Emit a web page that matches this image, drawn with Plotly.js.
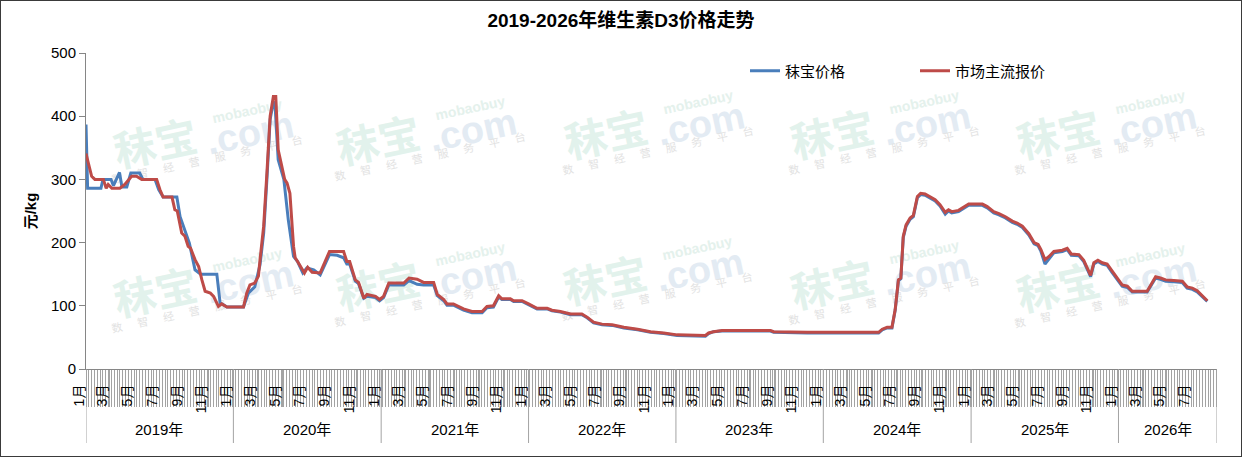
<!DOCTYPE html>
<html>
<head>
<meta charset="utf-8">
<script src="https://cdn.plot.ly/plotly-3.0.1.min.js"></script>
<style>
  html, body { margin: 0; padding: 0; background: #fff; }
  #wrap { position: relative; width: 1242px; height: 457px; }
  #frame {
    position: absolute; left: 0; top: 0; width: 1242px; height: 457px;
    box-sizing: border-box; border: 1px solid #3a3a3a; pointer-events: none;
  }
</style>
</head>
<body>
<div id="wrap">
  <div id="chart" style="width:1242px;height:457px;"></div>
  <div id="frame"></div>
</div>
<script>
"use strict";

// 市场主流报价 (red)
const redDates = [
  "2019-01-01","2019-01-15","2019-01-23","2019-02-13","2019-02-20","2019-02-25","2019-03-06","2019-03-26",
  "2019-04-07","2019-04-24","2019-05-06","2019-05-19","2019-06-25","2019-07-03","2019-07-11","2019-08-02",
  "2019-08-09","2019-08-15","2019-08-26","2019-09-03","2019-09-11","2019-09-17","2019-09-28","2019-10-07",
  "2019-10-15","2019-10-23","2019-11-05","2019-11-13","2019-11-25","2019-12-03","2019-12-16","2020-01-26",
  "2020-02-03","2020-02-11","2020-02-23","2020-03-03","2020-03-07","2020-03-16","2020-03-24","2020-04-01",
  "2020-04-09","2020-04-15","2020-04-21","2020-04-29","2020-05-07","2020-05-13","2020-05-20","2020-05-29",
  "2020-06-02","2020-06-08","2020-06-25","2020-07-03","2020-07-14","2020-08-03","2020-08-26","2020-09-30",
  "2020-10-08","2020-10-15","2020-10-29","2020-11-06","2020-11-19","2020-11-27","2020-12-18","2020-12-28",
  "2021-01-07","2021-01-20","2021-02-26","2021-03-11","2021-03-31","2021-04-16","2021-05-11","2021-05-20",
  "2021-06-05","2021-06-13","2021-06-29","2021-07-24","2021-08-14","2021-09-08","2021-09-20","2021-10-06",
  "2021-10-19","2021-10-27","2021-11-17","2021-11-25","2021-12-16","2022-01-01","2022-01-22","2022-02-16",
  "2022-02-28","2022-03-21","2022-04-06","2022-04-15","2022-05-13","2022-05-26","2022-06-11","2022-07-02",
  "2022-07-27","2022-08-25","2022-09-28","2022-10-30","2022-12-02","2023-01-04","2023-03-15","2023-03-23",
  "2023-04-04","2023-04-25","2023-08-23","2023-08-31","2023-11-22","2024-05-17","2024-05-26","2024-06-07",
  "2024-06-19","2024-06-27","2024-07-05","2024-07-11","2024-07-17","2024-07-24","2024-08-03","2024-08-11",
  "2024-08-21","2024-08-29","2024-09-09","2024-09-21","2024-10-04","2024-10-16","2024-10-29","2024-11-06",
  "2024-11-14","2024-12-01","2024-12-12","2024-12-26","2025-01-29","2025-02-10","2025-02-26","2025-03-11",
  "2025-03-27","2025-04-13","2025-04-25","2025-05-08","2025-05-24","2025-06-06","2025-06-16","2025-06-23",
  "2025-07-03","2025-07-13","2025-07-25","2025-08-15","2025-08-27","2025-09-06","2025-09-25","2025-10-07",
  "2025-10-24","2025-11-01","2025-11-11","2025-11-22","2025-12-04","2025-12-16","2026-01-10","2026-01-23",
  "2026-02-04","2026-03-13","2026-04-03","2026-04-15","2026-04-28","2026-05-18","2026-06-08","2026-06-20",
  "2026-07-03","2026-07-15","2026-07-27","2026-08-09"
];
const redValues = [
  341,305,300,300,286,292,286,286,
  292,305,305,300,300,284,272,272,
  252,250,215,210,194,191,173,162,
  141,123,120,115,99,103,98,98,
  120,133,136,147,173,226,310,400,
  431,431,347,326,300,294,278,194,
  176,170,152,161,153,152,186,186,
  170,170,141,137,112,118,115,110,
  115,136,136,144,142,137,137,118,
  110,103,103,95,91,91,99,100,
  116,111,111,108,108,103,96,96,
  93,91,89,87,87,82,74,71,
  70,66,63,59,57,54,53,57,
  59,61,61,59,58,58,63,66,
  66,94,141,144,210,228,239,243,
  273,278,277,273,268,260,248,252,
  249,251,256,261,261,257,249,246,
  241,234,231,226,214,200,197,189,
  173,178,186,188,191,182,181,172,
  148,168,172,168,166,155,133,131,
  123,123,146,144,141,140,139,130,
  128,124,116,108
];

// 秣宝价格 (blue)
const blueDates = [
  "2019-01-01","2019-01-05","2019-02-07","2019-02-12","2019-03-04","2019-03-10","2019-03-25","2019-03-31",
  "2019-04-12","2019-04-22","2019-05-14","2019-05-22","2019-06-21","2019-06-30","2019-07-11","2019-08-14",
  "2019-08-22","2019-09-14","2019-09-28","2019-10-12","2019-11-21","2019-11-29","2019-12-16","2020-01-26",
  "2020-02-07","2020-02-23","2020-03-07","2020-03-16","2020-03-24","2020-04-01","2020-04-09","2020-04-13",
  "2020-04-21","2020-05-05","2020-05-16","2020-05-29","2020-06-08","2020-06-21","2020-07-01","2020-07-18",
  "2020-08-03","2020-08-26","2020-09-14","2020-09-30","2020-10-08","2020-10-15","2020-10-29","2020-11-06",
  "2020-11-19","2020-11-27","2020-12-18","2020-12-28","2021-01-07","2021-01-20","2021-02-26","2021-03-11",
  "2021-03-31","2021-04-16","2021-05-11","2021-05-20","2021-06-05","2021-06-13","2021-06-29","2021-07-24",
  "2021-08-14","2021-09-08","2021-09-20","2021-10-06","2021-10-19","2021-10-27","2021-11-17","2021-11-25",
  "2021-12-16","2022-01-01","2022-01-22","2022-02-16","2022-02-28","2022-03-21","2022-04-06","2022-04-15",
  "2022-05-13","2022-05-26","2022-06-11","2022-07-02","2022-07-27","2022-08-25","2022-09-28","2022-10-30",
  "2022-12-02","2023-01-04","2023-03-15","2023-03-23","2023-04-04","2023-04-25","2023-08-23","2023-08-31",
  "2023-11-22","2024-05-17","2024-05-26","2024-06-07","2024-06-19","2024-06-27","2024-07-05","2024-07-11",
  "2024-07-17","2024-07-24","2024-08-03","2024-08-11","2024-08-21","2024-08-29","2024-09-09","2024-09-21",
  "2024-10-04","2024-10-16","2024-10-29","2024-11-06","2024-11-14","2024-12-01","2024-12-12","2024-12-26",
  "2025-01-29","2025-02-10","2025-02-26","2025-03-11","2025-03-27","2025-04-13","2025-04-25","2025-05-08",
  "2025-05-24","2025-06-06","2025-06-16","2025-06-23","2025-07-03","2025-07-13","2025-07-25","2025-08-15",
  "2025-08-27","2025-09-06","2025-09-25","2025-10-07","2025-10-24","2025-11-01","2025-11-11","2025-11-22",
  "2025-12-04","2025-12-16","2026-01-10","2026-01-23","2026-02-04","2026-03-13","2026-04-03","2026-04-15",
  "2026-04-28","2026-05-18","2026-06-08","2026-06-20","2026-07-03","2026-07-15","2026-07-27","2026-08-09"
];
const blueValues = [
  387,286,286,300,300,290,311,288,
  288,310,310,300,300,284,272,272,
  241,199,157,150,150,105,98,98,
  120,130,165,215,300,395,423,420,
  331,300,236,178,170,152,160,157,
  149,181,180,176,166,166,139,135,
  112,115,113,108,113,133,133,140,
  134,133,133,116,108,101,101,93,
  89,89,97,98,114,110,110,107,
  107,102,95,95,92,90,88,86,
  86,81,73,70,69,65,62,58,
  56,53,52,56,59,60,60,58,
  57,57,62,65,65,93,140,143,
  208,226,237,241,271,276,275,271,
  266,258,245,250,247,249,254,259,
  259,255,247,244,239,232,229,224,
  212,198,195,186,166,175,184,186,
  189,180,179,170,146,166,170,166,
  164,153,131,129,122,122,144,142,
  139,138,137,128,126,122,114,107
];

const seriesNames = ["秣宝价格", "市场主流报价"];
const yearLabels = ["2019年","2020年","2021年","2022年","2023年","2024年","2025年","2026年"];
const monthLabels = ["1月","3月","5月","7月","9月","11月"];
const yTicks = [0, 100, 200, 300, 400, 500];

const X_END = "2026-09-02";
const FONT = "'Liberation Sans', Arial, 'Noto Sans CJK SC', sans-serif";
const AXIS_GREY = "#868686";
const TICK_GREY = "#a3a3a3";

// plot box in pixels, used to place decorations
const M = { l: 86, r: 25, t: 53, b: 88 };
const W = 1242, H = 457;
const px = (x) => (x - M.l) / (W - M.l - M.r);
const py = (y) => (H - M.b - y) / (H - M.t - M.b);

/* ── month tick labels (odd months, up to last data week) ─────────── */
const lastDate = redDates[redDates.length - 1];
const tickVals = [], tickText = [];
yearLabels.forEach((lab, i) => {
  const yr = 2019 + i;
  monthLabels.forEach((m) => {
    const mm = String(parseInt(m, 10)).padStart(2, "0");
    const d = `${yr}-${mm}-01`;
    if (d <= lastDate) { tickVals.push(d); tickText.push(m); }
  });
});

/* ── year band: separators + labels ───────────────────────────────── */
const shapes = [];
const annotations = [];
const bounds = yearLabels.map((lab, i) => `${2019 + i}-01-01`).concat([X_END]);
bounds.forEach((b) => {
  shapes.push({
    type: "line", xref: "x", yref: "paper",
    x0: b, x1: b, y0: 0, y1: py(443),
    line: { color: TICK_GREY, width: 1 },
  });
});
yearLabels.forEach((lab, i) => {
  const a = new Date(bounds[i]).getTime();
  const b = new Date(bounds[i + 1]).getTime();
  annotations.push({
    x: new Date((a + b) / 2).toISOString().slice(0, 10),
    xref: "x", y: py(429), yref: "paper",
    xanchor: "center", yanchor: "middle",
    text: lab, showarrow: false,
    font: { size: 15, color: "#000" },
  });
});

/* ── faint watermarks, kept under the lines via shape labels ─────── */
const marks = [
  [155, 141], [378, 138], [606, 132], [832, 132], [1058, 132],
  [155, 290], [378, 284], [605, 278], [832, 282], [1058, 285],
];
function stamp(x, y, text, size, color) {
  const e = 0.0005;
  shapes.push({
    type: "rect", layer: "below", xref: "paper", yref: "paper",
    x0: px(x) - e, x1: px(x) + e, y0: py(y) - e, y1: py(y) + e,
    line: { width: 0 }, fillcolor: "rgba(0,0,0,0)",
    label: {
      text: text, textangle: -12, textposition: "middle center",
      xanchor: "center", yanchor: "middle",
      font: { size: size, color: color, family: FONT },
    },
  });
}
const subText = "数智经营服务平台".split("").join("&#160;&#160;&#160;&#160;&#160;");
marks.forEach(([cx, cy]) => {
  stamp(cx, cy, "<b>秣宝</b>", 42, "#e2f2ec");
  stamp(cx + 94, cy - 12, "<b>.com</b>", 38, "#e3ebf3");
  stamp(cx + 92, cy - 31, "<b>mobaobuy</b>", 14, "#e4f1ec");
  stamp(cx + 52, cy + 18, subText, 11, "#e2e2e2");
});

const traces = [
  {
    type: "scatter", mode: "lines", name: seriesNames[0],
    x: blueDates, y: blueValues,
    line: { color: "#4a7ebb", width: 3 },
  },
  {
    type: "scatter", mode: "lines", name: seriesNames[1],
    x: redDates, y: redValues,
    line: { color: "#be4b48", width: 3 },
  },
];

const layout = {
  width: W, height: H,
  margin: M,
  paper_bgcolor: "#fff", plot_bgcolor: "rgba(0,0,0,0)",
  font: { family: FONT, size: 15, color: "#000" },
  title: {
    text: "<b>2019-2026年维生素D3价格走势</b>",
    font: { size: 19, color: "#000" },
    x: 0.5, xref: "container", xanchor: "center",
    y: 1 - 20 / H, yref: "container", yanchor: "middle",
  },
  showlegend: true,
  legend: {
    orientation: "h",
    x: px(745), xanchor: "left",
    y: py(71), yanchor: "middle",
    font: { size: 15 },
    bgcolor: "rgba(0,0,0,0)",
    entrywidth: 125,
    traceorder: "normal",
  },
  xaxis: {
    type: "date",
    range: ["2019-01-01", X_END],
    showline: true, linecolor: AXIS_GREY, linewidth: 1,
    showgrid: false, zeroline: false,
    tickmode: "array", tickvals: tickVals, ticktext: tickText,
    ticks: "outside", ticklen: 37, tickcolor: TICK_GREY, tickwidth: 1,
    tickangle: -90,
    tickfont: { size: 14, color: "#000" },
    ticklabelstandoff: -28,
    ticklabelshift: -7,
    minor: {
      dtick: 7 * 24 * 3600 * 1000, tick0: "2019-01-01",
      ticks: "outside", ticklen: 37, tickcolor: TICK_GREY, tickwidth: 1,
      showgrid: false,
    },
    fixedrange: true,
  },
  yaxis: {
    range: [0, 500],
    tickmode: "array", tickvals: yTicks,
    showline: true, linecolor: AXIS_GREY, linewidth: 1,
    showgrid: false, zeroline: false,
    ticks: "outside", ticklen: 6, tickcolor: AXIS_GREY,
    tickfont: { size: 15, color: "#000" },
    title: { text: "<b>元/kg</b>", font: { size: 15, color: "#000" }, standoff: 10 },
    fixedrange: true,
  },
  shapes: shapes,
  annotations: annotations,
};

Plotly.newPlot("chart", traces, layout, { displayModeBar: false, staticPlot: true });
</script>
</body>
</html>
